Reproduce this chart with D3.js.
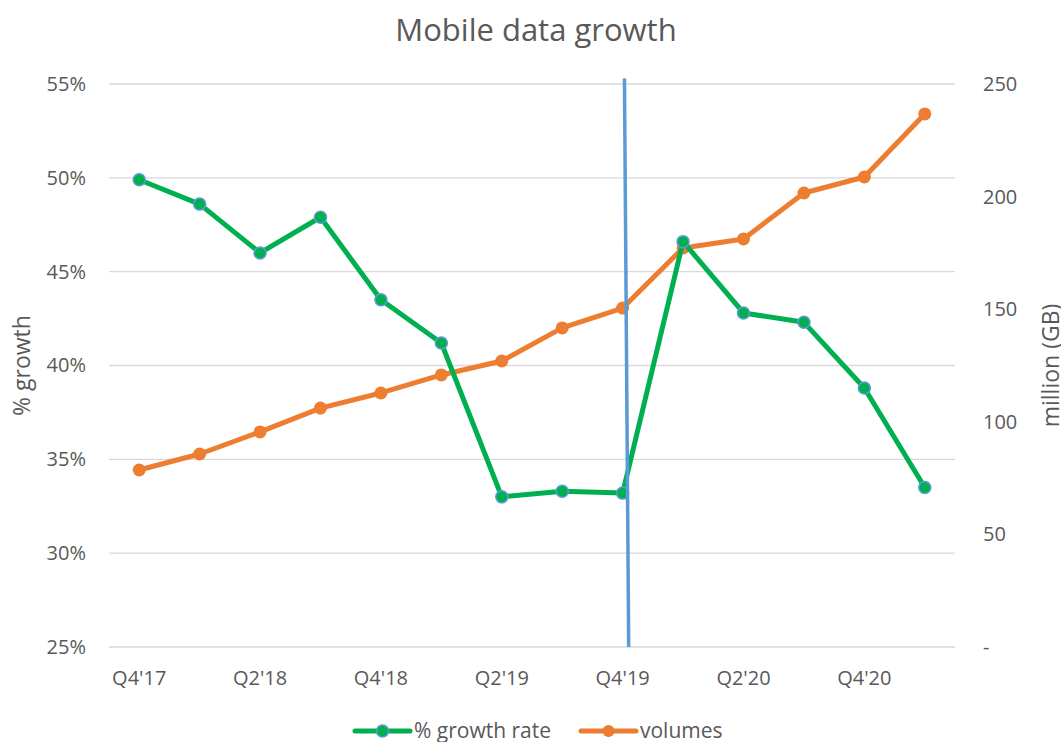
<!DOCTYPE html>
<html lang="en">
<head>
<meta charset="UTF-8">
<title>Mobile data growth</title>
<script src="https://d3js.org/d3.v7.min.js"></script>
<style>
  body { margin: 0; background: #fff; font-family: "Open Sans", Lato, sans-serif; }
  .tick text { fill: #595959; }
</style>
</head>
<body>
<div id="chart"></div>
<script>
const quarters = ["Q4'17", "Q1'18", "Q2'18", "Q3'18", "Q4'18", "Q1'19", "Q2'19",
                  "Q3'19", "Q4'19", "Q1'20", "Q2'20", "Q3'20", "Q4'20", "Q1'21"];
const growthRate = [49.9, 48.6, 46.0, 47.9, 43.5, 41.2, 33.0, 33.3, 33.2, 46.6, 42.8, 42.3, 38.8, 33.5];
const volumes = [78.6, 85.7, 95.5, 106.1, 112.8, 120.8, 127.0, 141.7, 150.5, 177.2, 181.2, 201.6, 208.7, 236.7];
const leftTicks = [25, 30, 35, 40, 45, 50, 55];
const rightTicks = [0, 50, 100, 150, 200, 250];
// hand-drawn marker line near Q4'19 (category index units, left-axis units)
const markerLine = [{ i: 8.03, v: 55.3 }, { i: 8.1, v: 25 }];

const W = 1061, H = 742;
const m = { top: 84, right: 106, bottom: 95, left: 109 };
const w = W - m.left - m.right, h = H - m.top - m.bottom;

const svg = d3.select("#chart").append("svg").attr("width", W).attr("height", H);
const g = svg.append("g").attr("transform", `translate(${m.left},${m.top})`);

const x = d3.scaleBand().domain(quarters).range([0, w]);
const xi = d3.scaleLinear().domain([0, quarters.length]).range([0, w]);
const yL = d3.scaleLinear().domain([25, 55]).range([h, 0]);
const yR = d3.scaleLinear().domain([0, 250]).range([h, 0]);
const cx = d => x(d) + x.bandwidth() / 2;

// title
svg.append("text").attr("x", 536).attr("y", 41).attr("text-anchor", "middle")
  .attr("font-size", 31).attr("fill", "#595959").text("Mobile data growth");

// gridlines
g.selectAll(".grid").data(leftTicks).enter().append("line")
  .attr("x1", 0).attr("x2", w).attr("y1", d => yL(d)).attr("y2", d => yL(d))
  .attr("stroke", "#d9d9d9").attr("stroke-width", 1.3);

// left axis
const la = g.append("g").call(d3.axisLeft(yL).tickValues(leftTicks).tickSize(0).tickPadding(23).tickFormat(d => d + "%"));
la.select(".domain").remove();
la.selectAll("text").attr("font-size", 20).attr("font-family", "Open Sans, sans-serif");

// right axis
const ra = g.append("g").attr("transform", `translate(${w},0)`)
  .call(d3.axisRight(yR).tickValues(rightTicks).tickSize(0).tickPadding(28).tickFormat(d => d === 0 ? "-" : d));
ra.select(".domain").remove();
ra.selectAll("text").attr("font-size", 20).attr("font-family", "Open Sans, sans-serif");

// bottom axis
const ba = g.append("g").attr("transform", `translate(0,${h})`)
  .call(d3.axisBottom(x).tickSize(0).tickPadding(24).tickFormat((d, i) => i % 2 === 0 ? d : ""));
ba.select(".domain").remove();
ba.selectAll("text").attr("font-size", 20).attr("font-family", "Open Sans, sans-serif");

// axis titles
svg.append("text").attr("transform", `translate(30,${m.top + h / 2}) rotate(-90)`)
  .attr("text-anchor", "middle").attr("font-size", 23).attr("fill", "#595959").text("% growth");
svg.append("text").attr("transform", `translate(1059,${m.top + h / 2}) rotate(-90)`)
  .attr("text-anchor", "middle").attr("font-size", 23).attr("fill", "#595959").text("million (GB)");

// series
const green = "#00b050", orange = "#ed7d31", blue = "#5b9bd5";

g.append("path").datum(volumes)
  .attr("d", d3.line().x((d, i) => cx(quarters[i])).y(d => yR(d)))
  .attr("fill", "none").attr("stroke", orange).attr("stroke-width", 5).attr("stroke-linejoin", "round");
g.selectAll(".vol").data(volumes).enter().append("circle")
  .attr("cx", (d, i) => cx(quarters[i])).attr("cy", d => yR(d)).attr("r", 6.5).attr("fill", orange);

g.append("path").datum(growthRate)
  .attr("d", d3.line().x((d, i) => cx(quarters[i])).y(d => yL(d)))
  .attr("fill", "none").attr("stroke", green).attr("stroke-width", 5).attr("stroke-linejoin", "round");
g.selectAll(".gr").data(growthRate).enter().append("circle")
  .attr("cx", (d, i) => cx(quarters[i])).attr("cy", d => yL(d)).attr("r", 6)
  .attr("fill", green).attr("stroke", blue).attr("stroke-width", 1.5);

// blue marker line
g.append("path").datum(markerLine)
  .attr("d", d3.line().x(d => xi(d.i + 0.5)).y(d => yL(d.v)))
  .attr("stroke", blue).attr("stroke-width", 3.5).attr("fill", "none");

// legend
const legend = svg.append("g").attr("transform", "translate(0,731)");
const items = [
  { label: "% growth rate", color: green, stroke: blue, x0: 355 },
  { label: "volumes", color: orange, stroke: "none", x0: 581 }
];
items.forEach(it => {
  legend.append("line").attr("x1", it.x0).attr("x2", it.x0 + 55).attr("y1", 0).attr("y2", 0)
    .attr("stroke", it.color).attr("stroke-width", 5).attr("stroke-linecap", "round");
  legend.append("circle").attr("cx", it.x0 + 27.5).attr("cy", 0).attr("r", 6)
    .attr("fill", it.color).attr("stroke", it.stroke).attr("stroke-width", 1.5);
  legend.append("text").attr("x", it.x0 + 59).attr("y", 7).attr("font-size", 21)
    .attr("fill", "#595959").text(it.label);
});
</script>
</body>
</html>
